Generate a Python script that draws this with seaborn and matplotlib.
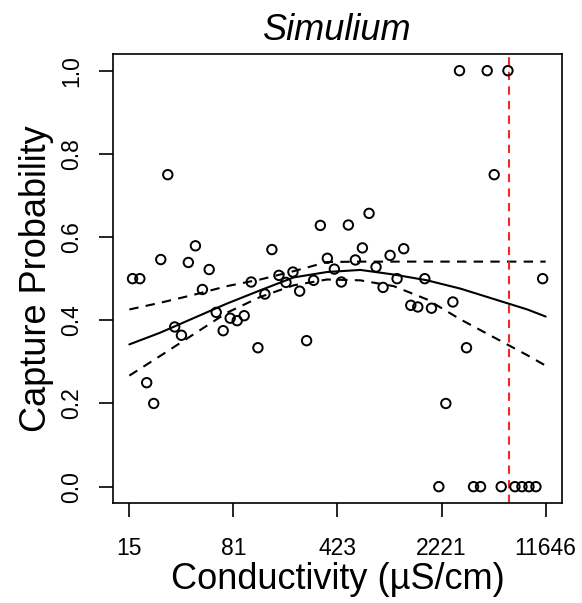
import numpy as np
import pandas as pd
import matplotlib
matplotlib.use('Agg')
import matplotlib.pyplot as plt
import seaborn as sns

# binned capture probability vs conductivity (uS/cm)
cond = [16.2, 18.2, 20.3, 22.7, 25.4, 28.4, 31.7, 35.3, 39.4, 44.1,
        49.3, 54.9, 61.4, 68.6, 76.7, 85.7, 95.9, 107.2, 119.3, 133.3,
        149.0, 166.6, 186.4, 208.3, 231.8, 259.0, 289.6, 322.3, 360.3, 402.8,
        450.4, 503.5, 563.0, 629.5, 700.0, 782.4, 874.8, 978.3, 1093.5, 1216.0,
        1360.0, 1521.0, 1700.0, 1891.0, 2126.0, 2377.0, 2658.0, 2955.0, 3303.0, 3694.0,
        4130.0, 4592.0, 5134.0, 5740.0, 6389.0, 7142.0, 7985.0, 8927.0, 9979.0, 11103.0]
prob = [0.500, 0.500, 0.250, 0.200, 0.546, 0.750, 0.384, 0.364, 0.539, 0.579,
        0.474, 0.522, 0.419, 0.375, 0.405, 0.399, 0.411, 0.492, 0.334, 0.463,
        0.570, 0.508, 0.491, 0.516, 0.470, 0.351, 0.496, 0.628, 0.549, 0.523,
        0.492, 0.629, 0.545, 0.574, 0.657, 0.528, 0.479, 0.556, 0.500, 0.572,
        0.436, 0.432, 0.500, 0.429, 0.000, 0.200, 0.444, 1.000, 0.334, 0.000,
        0.000, 1.000, 0.750, 0.000, 1.000, 0.000, 0.000, 0.000, 0.000, 0.500]

# fitted curve and confidence band
fit_x = [15.4, 25.1, 42.7, 72.7, 123.7, 210.6, 358.2, 609.7, 1037.0, 1765.0,
         3004.0, 5110.0, 8697.0, 11646.0]
fit_y = [0.342, 0.370, 0.405, 0.440, 0.472, 0.503, 0.516, 0.521, 0.510, 0.496,
         0.476, 0.451, 0.426, 0.409]
upper_y = [0.426, 0.442, 0.461, 0.482, 0.498, 0.518, 0.540, 0.541, 0.541, 0.541,
           0.541, 0.541, 0.541, 0.541]
lower_y = [0.267, 0.314, 0.366, 0.418, 0.456, 0.484, 0.498, 0.496, 0.482, 0.450,
           0.402, 0.359, 0.316, 0.291]

threshold = 6500.0

tick_values = [15.4, 80.7, 423.0, 2221.0, 11646.0]
tick_labels = ['15', '81', '423', '2221', '11646']
ytick_values = [0.0, 0.2, 0.4, 0.6, 0.8, 1.0]
ytick_labels = ['0.0', '0.2', '0.4', '0.6', '0.8', '1.0']

sns.set_theme(style='white')
plt.rcParams['font.family'] = ['Liberation Sans', 'DejaVu Sans']

pts = pd.DataFrame({'cond': cond, 'prob': prob})
curve = pd.DataFrame({'x': fit_x, 'fit': fit_y, 'upper': upper_y, 'lower': lower_y})

fig = plt.figure(figsize=(5.82, 6.03), dpi=100)
ax = fig.add_axes([0.1936, 0.1653, 0.7726, 0.7451])

sns.lineplot(data=curve, x='x', y='fit', color='black', linewidth=1.5, ax=ax)
sns.lineplot(data=curve, x='x', y='upper', color='black', linewidth=1.5, ax=ax)
sns.lineplot(data=curve, x='x', y='lower', color='black', linewidth=1.5, ax=ax)
ax.lines[1].set_dashes((4.5, 3.5))
ax.lines[2].set_dashes((4.5, 3.5))
sns.scatterplot(data=pts, x='cond', y='prob', marker='o', s=46,
                facecolor='none', edgecolor='black', linewidth=1.4, ax=ax, zorder=3)
ax.axvline(threshold, color='#f02a2a', linewidth=1.5, dashes=(4, 3))

ax.set_xscale('log')
ax.minorticks_off()
ax.set_xlim(11.81, 15190)
ax.set_ylim(-0.04, 1.04)
ax.set_xticks(tick_values)
ax.set_xticklabels(tick_labels)
ax.set_yticks(ytick_values)
ax.set_yticklabels(ytick_labels, rotation=90, va='center')

ax.tick_params(axis='both', direction='out', length=10, width=1.2, color='black',
               labelsize=16.5, labelcolor='black', bottom=True, left=True)
ax.tick_params(axis='x', pad=14)
ax.tick_params(axis='y', pad=11)
for s in ax.spines.values():
    s.set_color('black')
    s.set_linewidth(1.2)

ax.set_xlabel('Conductivity (µS/cm)', fontsize=26, color='black', labelpad=2)
ax.set_ylabel('Capture Probability', fontsize=26, color='black', labelpad=5)
ax.set_title('Simulium', fontsize=26, style='italic', color='black', pad=10)

fig.savefig('out.png', dpi=100)
